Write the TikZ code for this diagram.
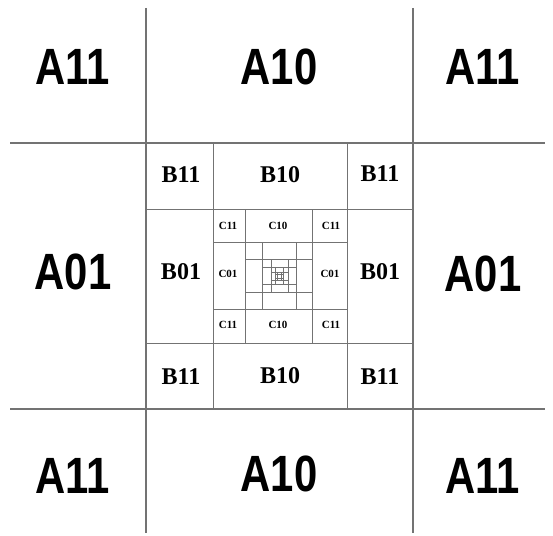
\documentclass[tikz,border=0pt]{standalone}
\usepackage{fontspec}
\newfontfamily\bigfont[FakeStretch=0.82]{Liberation Sans}
\newfontfamily\slabfont{Liberation Serif}
\begin{document}
\begin{tikzpicture}[x=1pt,y=-1pt,
  grid/.style={draw=black!55},
  alab/.style={font=\bigfont\bfseries\fontsize{51}{51}\selectfont,inner sep=0pt},
  blab/.style={font=\slabfont\bfseries\fontsize{24}{24}\selectfont,inner sep=0pt},
  clab/.style={font=\slabfont\bfseries\fontsize{11}{11}\selectfont,inner sep=0pt}]
\useasboundingbox (0,0) rectangle (553,535);
% level A
\draw[grid,line width=1.3pt] (146,8) -- (146,533) (413,8) -- (413,533)
  (10,143) -- (545,143) (10,409) -- (545,409);
% level B
\draw[grid,line width=1pt] (213,143) -- (213,409) (347,143) -- (347,409)
  (146,209) -- (413,209) (146,343) -- (413,343);
% level C
\draw[grid,line width=0.8pt] (245.5,209) -- (245.5,343) (312.5,209) -- (312.5,343)
  (213,242.5) -- (347,242.5) (213,309) -- (347,309);
% deeper levels, each one half the size of the last
\foreach \h/\w in {33.5/0.7,16.75/0.6,8.4/0.5,4.2/0.4}
  \draw[grid,line width=\w pt]
    ({279.5-\h/2},{276-\h}) -- ({279.5-\h/2},{276+\h})
    ({279.5+\h/2},{276-\h}) -- ({279.5+\h/2},{276+\h})
    ({279.5-\h},{276-\h/2}) -- ({279.5+\h},{276-\h/2})
    ({279.5-\h},{276+\h/2}) -- ({279.5+\h},{276+\h/2});
% A labels
\node[alab] (a11tl) at (73,67)   {A11};
\node[alab] (a10t)  at (279,67)  {A10};
\node[alab] (a11tr) at (483,67)  {A11};
\node[alab] (a01l)  at (73,272)  {A01};
\node[alab] (a01r)  at (483,274) {A01};
\node[alab] (a11bl) at (73,476)  {A11};
\node[alab] (a10b)  at (279,474) {A10};
\node[alab] (a11br) at (483,476) {A11};
% B labels
\node[blab] (b11tl) at (181,175) {B11};
\node[blab] (b10t)  at (280,175) {B10};
\node[blab] (b11tr) at (380,174) {B11};
\node[blab] (b01l)  at (181,272) {B01};
\node[blab] (b01r)  at (380,272) {B01};
\node[blab] (b11bl) at (181,377) {B11};
\node[blab] (b10b)  at (280,376) {B10};
\node[blab] (b11br) at (380,377) {B11};
% C labels
\node[clab] (c11tl) at (228,226) {C11};
\node[clab] (c10t)  at (278,226) {C10};
\node[clab] (c11tr) at (331,226) {C11};
\node[clab] (c01l)  at (228,274) {C01};
\node[clab] (c01r)  at (330,274) {C01};
\node[clab] (c11bl) at (228,325) {C11};
\node[clab] (c10b)  at (278,325) {C10};
\node[clab] (c11br) at (331,325) {C11};
\end{tikzpicture}
\end{document}
